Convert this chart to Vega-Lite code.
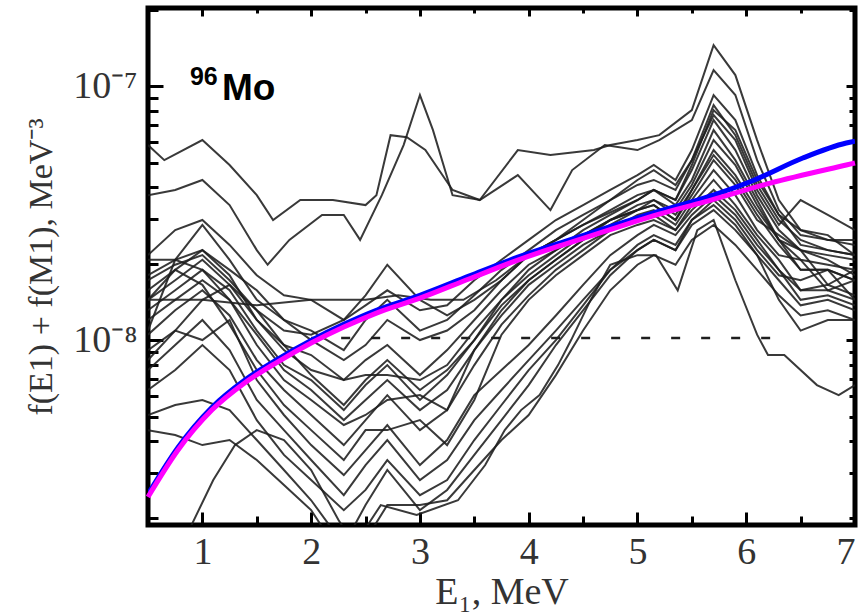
{
  "$schema": "https://vega.github.io/schema/vega-lite/v6.json",
  "width": 707,
  "height": 517,
  "autosize": {"type": "none"},
  "padding": {"left": 148, "top": 8, "right": 7, "bottom": 88},
  "background": "white",
  "config": {
    "view": {"stroke": "black", "strokeWidth": 5},
    "axis": {"domain": false, "grid": false, "labelFont": "Liberation Serif", "titleFont": "Liberation Serif", "labelColor": "#333", "titleColor": "#333", "titleFontWeight": "normal", "tickColor": "black", "tickWidth": 3, "labelFlush": false, "labelOverlap": false}
  },
  "resolve": {"axis": {"x": "independent", "y": "independent"}},
  "datasets": {
    "lines": [
      {"s":"A","e":0.5,"f":5.86e-8},{"s":"A","e":0.65,"f":5.11e-8},{"s":"A","e":1.0,"f":6.13e-8},{"s":"A","e":1.25,"f":4.89e-8},{"s":"A","e":1.5,"f":3.72e-8},{"s":"A","e":1.65,"f":2.97e-8},{"s":"A","e":1.9,"f":3.56e-8},{"s":"A","e":2.2,"f":3.56e-8},{"s":"A","e":2.5,"f":3.40e-8},{"s":"A","e":2.6,"f":3.72e-8},{"s":"A","e":2.73,"f":6.41e-8},{"s":"A","e":2.88,"f":6.29e-8},{"s":"A","e":3.05,"f":5.60e-8},{"s":"A","e":3.3,"f":3.90e-8},{"s":"A","e":3.55,"f":3.56e-8},{"s":"A","e":3.9,"f":4.46e-8},{"s":"A","e":4.2,"f":3.25e-8},{"s":"A","e":4.4,"f":4.67e-8},{"s":"A","e":4.7,"f":5.86e-8},{"s":"A","e":5.0,"f":5.60e-8},{"s":"A","e":5.2,"f":6.13e-8},{"s":"A","e":5.5,"f":7.35e-8},{"s":"A","e":5.7,"f":1.156e-7},{"s":"A","e":5.9,"f":9.22e-8},{"s":"A","e":6.1,"f":5.11e-8},{"s":"A","e":6.3,"f":3.25e-8},{"s":"A","e":6.5,"f":2.59e-8},{"s":"A","e":6.75,"f":2.48e-8},{"s":"A","e":7.0,"f":2.37e-8},
      {"s":"B","e":0.5,"f":3.72e-8},{"s":"B","e":0.75,"f":3.90e-8},{"s":"B","e":1.0,"f":4.27e-8},{"s":"B","e":1.25,"f":3.40e-8},{"s":"B","e":1.5,"f":2.26e-8},{"s":"B","e":1.6,"f":1.98e-8},{"s":"B","e":1.8,"f":2.48e-8},{"s":"B","e":2.1,"f":3.11e-8},{"s":"B","e":2.3,"f":3.11e-8},{"s":"B","e":2.45,"f":2.48e-8},{"s":"B","e":2.65,"f":3.72e-8},{"s":"B","e":2.85,"f":5.86e-8},{"s":"B","e":3.0,"f":9.22e-8},{"s":"B","e":3.12,"f":6.71e-8},{"s":"B","e":3.3,"f":3.72e-8},{"s":"B","e":3.55,"f":3.56e-8},{"s":"B","e":3.9,"f":5.60e-8},{"s":"B","e":4.2,"f":5.35e-8},{"s":"B","e":4.6,"f":5.60e-8},{"s":"B","e":4.75,"f":5.86e-8},{"s":"B","e":5.0,"f":6.13e-8},{"s":"B","e":5.2,"f":6.41e-8},{"s":"B","e":5.5,"f":8.04e-8},{"s":"B","e":5.7,"f":1.45e-7},{"s":"B","e":5.9,"f":1.105e-7},{"s":"B","e":6.1,"f":6.13e-8},{"s":"B","e":6.3,"f":3.56e-8},{"s":"B","e":6.5,"f":2.71e-8},{"s":"B","e":6.75,"f":2.59e-8},{"s":"B","e":7.0,"f":2.16e-8},
      {"s":"C","e":0.5,"f":1.44e-8},{"s":"C","e":1.0,"f":1.44e-8},{"s":"C","e":1.5,"f":1.37e-8},{"s":"C","e":2.0,"f":1.44e-8},{"s":"C","e":2.5,"f":1.44e-8},{"s":"C","e":2.8,"f":1.50e-8},{"s":"C","e":3.1,"f":1.44e-8},{"s":"C","e":3.4,"f":1.44e-8},{"s":"C","e":3.7,"f":1.72e-8},{"s":"C","e":4.0,"f":2.16e-8},{"s":"C","e":4.5,"f":2.84e-8},{"s":"C","e":5.0,"f":3.56e-8},{"s":"C","e":5.15,"f":3.90e-8},{"s":"C","e":5.35,"f":3.56e-8},{"s":"C","e":5.5,"f":4.89e-8},{"s":"C","e":5.7,"f":8.04e-8},{"s":"C","e":5.9,"f":6.71e-8},{"s":"C","e":6.1,"f":4.27e-8},{"s":"C","e":6.3,"f":3.11e-8},{"s":"C","e":6.5,"f":2.37e-8},{"s":"C","e":6.75,"f":2.26e-8},{"s":"C","e":7.0,"f":2.16e-8},
      {"s":"M1","e":0.5,"f":2.16e-8},{"s":"M1","e":0.75,"f":2.71e-8},{"s":"M1","e":1.0,"f":2.97e-8},{"s":"M1","e":1.25,"f":2.37e-8},{"s":"M1","e":1.5,"f":1.80e-8},{"s":"M1","e":1.75,"f":1.50e-8},{"s":"M1","e":2.0,"f":1.44e-8},{"s":"M1","e":2.3,"f":1.20e-8},{"s":"M1","e":2.5,"f":1.37e-8},{"s":"M1","e":2.7,"f":1.57e-8},{"s":"M1","e":3.0,"f":1.31e-8},{"s":"M1","e":3.25,"f":1.37e-8},{"s":"M1","e":3.5,"f":1.72e-8},{"s":"M1","e":3.75,"f":2.07e-8},{"s":"M1","e":4.0,"f":2.48e-8},{"s":"M1","e":4.25,"f":2.97e-8},{"s":"M1","e":4.5,"f":3.40e-8},{"s":"M1","e":4.75,"f":3.90e-8},{"s":"M1","e":5.0,"f":4.46e-8},{"s":"M1","e":5.15,"f":4.89e-8},{"s":"M1","e":5.35,"f":4.27e-8},{"s":"M1","e":5.5,"f":5.60e-8},{"s":"M1","e":5.7,"f":9.22e-8},{"s":"M1","e":5.9,"f":7.35e-8},{"s":"M1","e":6.1,"f":4.46e-8},{"s":"M1","e":6.3,"f":3.11e-8},{"s":"M1","e":6.5,"f":2.71e-8},{"s":"M1","e":6.75,"f":2.48e-8},{"s":"M1","e":7.0,"f":2.48e-8},
      {"s":"M2","e":0.5,"f":1.09e-8},{"s":"M2","e":0.75,"f":2.07e-8},{"s":"M2","e":1.0,"f":2.84e-8},{"s":"M2","e":1.25,"f":2.07e-8},{"s":"M2","e":1.5,"f":1.44e-8},{"s":"M2","e":1.75,"f":1.20e-8},{"s":"M2","e":2.0,"f":1.09e-8},{"s":"M2","e":2.3,"f":9.13e-9},{"s":"M2","e":2.5,"f":1.20e-8},{"s":"M2","e":2.7,"f":1.44e-8},{"s":"M2","e":3.0,"f":1.09e-8},{"s":"M2","e":3.25,"f":1.20e-8},{"s":"M2","e":3.5,"f":1.50e-8},{"s":"M2","e":3.75,"f":1.89e-8},{"s":"M2","e":4.0,"f":2.26e-8},{"s":"M2","e":4.25,"f":2.71e-8},{"s":"M2","e":4.5,"f":3.11e-8},{"s":"M2","e":4.75,"f":3.56e-8},{"s":"M2","e":5.0,"f":4.08e-8},{"s":"M2","e":5.15,"f":4.27e-8},{"s":"M2","e":5.35,"f":3.90e-8},{"s":"M2","e":5.5,"f":5.11e-8},{"s":"M2","e":5.7,"f":8.42e-8},{"s":"M2","e":5.9,"f":6.41e-8},{"s":"M2","e":6.1,"f":4.08e-8},{"s":"M2","e":6.3,"f":2.97e-8},{"s":"M2","e":6.5,"f":2.48e-8},{"s":"M2","e":6.75,"f":2.26e-8},{"s":"M2","e":7.0,"f":2.16e-8},
      {"s":"M3","e":0.5,"f":1.80e-8},{"s":"M3","e":0.75,"f":2.07e-8},{"s":"M3","e":1.0,"f":2.26e-8},{"s":"M3","e":1.25,"f":1.89e-8},{"s":"M3","e":1.5,"f":1.57e-8},{"s":"M3","e":1.75,"f":1.20e-8},{"s":"M3","e":2.0,"f":1.00e-8},{"s":"M3","e":2.3,"f":8.34e-9},{"s":"M3","e":2.5,"f":9.56e-9},{"s":"M3","e":2.7,"f":1.20e-8},{"s":"M3","e":3.0,"f":1.00e-8},{"s":"M3","e":3.25,"f":1.09e-8},{"s":"M3","e":3.5,"f":1.31e-8},{"s":"M3","e":3.75,"f":1.72e-8},{"s":"M3","e":4.0,"f":2.16e-8},{"s":"M3","e":4.25,"f":2.48e-8},{"s":"M3","e":4.5,"f":2.84e-8},{"s":"M3","e":4.75,"f":3.25e-8},{"s":"M3","e":5.0,"f":3.72e-8},{"s":"M3","e":5.15,"f":3.90e-8},{"s":"M3","e":5.35,"f":3.56e-8},{"s":"M3","e":5.5,"f":4.67e-8},{"s":"M3","e":5.7,"f":7.35e-8},{"s":"M3","e":5.9,"f":5.60e-8},{"s":"M3","e":6.1,"f":3.72e-8},{"s":"M3","e":6.3,"f":2.71e-8},{"s":"M3","e":6.5,"f":2.26e-8},{"s":"M3","e":6.75,"f":2.16e-8},{"s":"M3","e":7.0,"f":2.07e-8},
      {"s":"M4","e":0.5,"f":2.07e-8},{"s":"M4","e":0.75,"f":2.07e-8},{"s":"M4","e":1.0,"f":1.89e-8},{"s":"M4","e":1.25,"f":1.44e-8},{"s":"M4","e":1.5,"f":1.05e-8},{"s":"M4","e":1.75,"f":7.62e-9},{"s":"M4","e":2.0,"f":6.36e-9},{"s":"M4","e":2.3,"f":4.84e-9},{"s":"M4","e":2.5,"f":5.81e-9},{"s":"M4","e":2.7,"f":6.96e-9},{"s":"M4","e":3.0,"f":5.30e-9},{"s":"M4","e":3.25,"f":6.36e-9},{"s":"M4","e":3.5,"f":9.13e-9},{"s":"M4","e":3.75,"f":1.31e-8},{"s":"M4","e":4.0,"f":1.72e-8},{"s":"M4","e":4.25,"f":2.07e-8},{"s":"M4","e":4.5,"f":2.48e-8},{"s":"M4","e":4.75,"f":2.97e-8},{"s":"M4","e":5.0,"f":3.25e-8},{"s":"M4","e":5.15,"f":3.56e-8},{"s":"M4","e":5.35,"f":3.25e-8},{"s":"M4","e":5.5,"f":4.08e-8},{"s":"M4","e":5.7,"f":6.13e-8},{"s":"M4","e":5.9,"f":4.89e-8},{"s":"M4","e":6.1,"f":3.40e-8},{"s":"M4","e":6.3,"f":2.48e-8},{"s":"M4","e":6.5,"f":2.07e-8},{"s":"M4","e":6.75,"f":1.98e-8},{"s":"M4","e":7.0,"f":1.89e-8},
      {"s":"M5","e":0.5,"f":1.57e-8},{"s":"M5","e":0.75,"f":1.89e-8},{"s":"M5","e":1.0,"f":2.26e-8},{"s":"M5","e":1.25,"f":1.80e-8},{"s":"M5","e":1.5,"f":1.20e-8},{"s":"M5","e":1.75,"f":9.56e-9},{"s":"M5","e":2.0,"f":8.73e-9},{"s":"M5","e":2.3,"f":6.96e-9},{"s":"M5","e":2.5,"f":8.34e-9},{"s":"M5","e":2.7,"f":9.56e-9},{"s":"M5","e":3.0,"f":7.28e-9},{"s":"M5","e":3.25,"f":9.13e-9},{"s":"M5","e":3.5,"f":1.20e-8},{"s":"M5","e":3.75,"f":1.57e-8},{"s":"M5","e":4.0,"f":1.98e-8},{"s":"M5","e":4.25,"f":2.26e-8},{"s":"M5","e":4.5,"f":2.71e-8},{"s":"M5","e":4.75,"f":3.11e-8},{"s":"M5","e":5.0,"f":3.56e-8},{"s":"M5","e":5.15,"f":3.90e-8},{"s":"M5","e":5.35,"f":3.40e-8},{"s":"M5","e":5.5,"f":4.27e-8},{"s":"M5","e":5.7,"f":6.71e-8},{"s":"M5","e":5.9,"f":5.11e-8},{"s":"M5","e":6.1,"f":3.56e-8},{"s":"M5","e":6.3,"f":2.48e-8},{"s":"M5","e":6.5,"f":2.26e-8},{"s":"M5","e":6.75,"f":1.65e-8},{"s":"M5","e":7.0,"f":1.89e-8},
      {"s":"M6","e":0.5,"f":1.44e-8},{"s":"M6","e":0.75,"f":1.72e-8},{"s":"M6","e":1.0,"f":2.07e-8},{"s":"M6","e":1.25,"f":1.65e-8},{"s":"M6","e":1.5,"f":1.20e-8},{"s":"M6","e":1.75,"f":9.13e-9},{"s":"M6","e":2.0,"f":7.62e-9},{"s":"M6","e":2.3,"f":6.96e-9},{"s":"M6","e":2.5,"f":7.28e-9},{"s":"M6","e":2.7,"f":7.28e-9},{"s":"M6","e":3.0,"f":6.96e-9},{"s":"M6","e":3.25,"f":7.97e-9},{"s":"M6","e":3.5,"f":1.09e-8},{"s":"M6","e":3.75,"f":1.44e-8},{"s":"M6","e":4.0,"f":1.89e-8},{"s":"M6","e":4.25,"f":2.26e-8},{"s":"M6","e":4.5,"f":2.59e-8},{"s":"M6","e":4.75,"f":2.97e-8},{"s":"M6","e":5.0,"f":3.40e-8},{"s":"M6","e":5.15,"f":3.56e-8},{"s":"M6","e":5.35,"f":3.11e-8},{"s":"M6","e":5.5,"f":3.90e-8},{"s":"M6","e":5.7,"f":5.60e-8},{"s":"M6","e":5.9,"f":4.46e-8},{"s":"M6","e":6.1,"f":3.25e-8},{"s":"M6","e":6.3,"f":2.48e-8},{"s":"M6","e":6.5,"f":1.89e-8},{"s":"M6","e":6.75,"f":1.89e-8},{"s":"M6","e":7.0,"f":1.72e-8},
      {"s":"M7","e":0.5,"f":1.31e-8},{"s":"M7","e":0.75,"f":1.57e-8},{"s":"M7","e":1.0,"f":1.89e-8},{"s":"M7","e":1.25,"f":1.57e-8},{"s":"M7","e":1.5,"f":1.09e-8},{"s":"M7","e":1.75,"f":7.97e-9},{"s":"M7","e":2.0,"f":6.96e-9},{"s":"M7","e":2.3,"f":5.30e-9},{"s":"M7","e":2.5,"f":6.65e-9},{"s":"M7","e":2.7,"f":7.97e-9},{"s":"M7","e":3.0,"f":5.81e-9},{"s":"M7","e":3.25,"f":7.28e-9},{"s":"M7","e":3.5,"f":1.00e-8},{"s":"M7","e":3.75,"f":1.37e-8},{"s":"M7","e":4.0,"f":1.72e-8},{"s":"M7","e":4.25,"f":2.07e-8},{"s":"M7","e":4.5,"f":2.48e-8},{"s":"M7","e":4.75,"f":2.84e-8},{"s":"M7","e":5.0,"f":3.25e-8},{"s":"M7","e":5.15,"f":3.40e-8},{"s":"M7","e":5.35,"f":2.97e-8},{"s":"M7","e":5.5,"f":3.72e-8},{"s":"M7","e":5.7,"f":5.11e-8},{"s":"M7","e":5.9,"f":4.08e-8},{"s":"M7","e":6.1,"f":2.97e-8},{"s":"M7","e":6.3,"f":2.59e-8},{"s":"M7","e":6.5,"f":2.26e-8},{"s":"M7","e":6.75,"f":2.07e-8},{"s":"M7","e":7.0,"f":1.80e-8},
      {"s":"M8","e":0.5,"f":8.34e-9},{"s":"M8","e":0.75,"f":1.09e-8},{"s":"M8","e":1.0,"f":1.44e-8},{"s":"M8","e":1.25,"f":1.65e-8},{"s":"M8","e":1.5,"f":1.31e-8},{"s":"M8","e":1.75,"f":9.56e-9},{"s":"M8","e":2.0,"f":7.28e-9},{"s":"M8","e":2.3,"f":5.55e-9},{"s":"M8","e":2.5,"f":6.96e-9},{"s":"M8","e":2.7,"f":8.34e-9},{"s":"M8","e":3.0,"f":6.36e-9},{"s":"M8","e":3.25,"f":7.62e-9},{"s":"M8","e":3.5,"f":1.00e-8},{"s":"M8","e":3.75,"f":1.44e-8},{"s":"M8","e":4.0,"f":1.80e-8},{"s":"M8","e":4.25,"f":2.16e-8},{"s":"M8","e":4.5,"f":2.59e-8},{"s":"M8","e":4.75,"f":2.97e-8},{"s":"M8","e":5.0,"f":3.25e-8},{"s":"M8","e":5.15,"f":3.40e-8},{"s":"M8","e":5.35,"f":2.97e-8},{"s":"M8","e":5.5,"f":3.90e-8},{"s":"M8","e":5.7,"f":5.35e-8},{"s":"M8","e":5.9,"f":4.27e-8},{"s":"M8","e":6.1,"f":3.11e-8},{"s":"M8","e":6.3,"f":2.37e-8},{"s":"M8","e":6.5,"f":1.89e-8},{"s":"M8","e":6.75,"f":1.89e-8},{"s":"M8","e":7.0,"f":1.72e-8},
      {"s":"M9","e":0.5,"f":1.20e-8},{"s":"M9","e":0.75,"f":1.44e-8},{"s":"M9","e":1.0,"f":1.72e-8},{"s":"M9","e":1.25,"f":1.44e-8},{"s":"M9","e":1.5,"f":9.56e-9},{"s":"M9","e":1.75,"f":6.96e-9},{"s":"M9","e":2.0,"f":5.81e-9},{"s":"M9","e":2.3,"f":4.63e-9},{"s":"M9","e":2.5,"f":5.07e-9},{"s":"M9","e":2.7,"f":5.81e-9},{"s":"M9","e":3.0,"f":6.07e-9},{"s":"M9","e":3.25,"f":5.30e-9},{"s":"M9","e":3.5,"f":9.13e-9},{"s":"M9","e":3.75,"f":1.25e-8},{"s":"M9","e":4.0,"f":1.65e-8},{"s":"M9","e":4.25,"f":1.98e-8},{"s":"M9","e":4.5,"f":2.37e-8},{"s":"M9","e":4.75,"f":2.71e-8},{"s":"M9","e":5.0,"f":3.11e-8},{"s":"M9","e":5.15,"f":3.25e-8},{"s":"M9","e":5.35,"f":2.84e-8},{"s":"M9","e":5.5,"f":3.56e-8},{"s":"M9","e":5.7,"f":4.67e-8},{"s":"M9","e":5.9,"f":3.72e-8},{"s":"M9","e":6.1,"f":2.71e-8},{"s":"M9","e":6.3,"f":2.16e-8},{"s":"M9","e":6.5,"f":2.07e-8},{"s":"M9","e":6.75,"f":1.57e-8},{"s":"M9","e":7.0,"f":1.72e-8},
      {"s":"M10","e":0.5,"f":1.05e-8},{"s":"M10","e":0.75,"f":1.31e-8},{"s":"M10","e":1.0,"f":1.57e-8},{"s":"M10","e":1.25,"f":1.25e-8},{"s":"M10","e":1.5,"f":8.34e-9},{"s":"M10","e":1.75,"f":6.36e-9},{"s":"M10","e":2.0,"f":5.07e-9},{"s":"M10","e":2.3,"f":3.86e-9},{"s":"M10","e":2.5,"f":4.84e-9},{"s":"M10","e":2.7,"f":6.07e-9},{"s":"M10","e":3.0,"f":4.42e-9},{"s":"M10","e":3.25,"f":5.30e-9},{"s":"M10","e":3.5,"f":7.97e-9},{"s":"M10","e":3.75,"f":1.15e-8},{"s":"M10","e":4.0,"f":1.50e-8},{"s":"M10","e":4.25,"f":1.89e-8},{"s":"M10","e":4.5,"f":2.26e-8},{"s":"M10","e":4.75,"f":2.71e-8},{"s":"M10","e":5.0,"f":2.97e-8},{"s":"M10","e":5.15,"f":3.11e-8},{"s":"M10","e":5.35,"f":2.71e-8},{"s":"M10","e":5.5,"f":3.40e-8},{"s":"M10","e":5.7,"f":4.27e-8},{"s":"M10","e":5.9,"f":3.40e-8},{"s":"M10","e":6.1,"f":2.59e-8},{"s":"M10","e":6.3,"f":2.07e-8},{"s":"M10","e":6.5,"f":1.57e-8},{"s":"M10","e":6.75,"f":1.65e-8},{"s":"M10","e":7.0,"f":1.50e-8},
      {"s":"M11","e":0.5,"f":1.44e-8},{"s":"M11","e":0.75,"f":1.89e-8},{"s":"M11","e":1.0,"f":1.65e-8},{"s":"M11","e":1.25,"f":1.15e-8},{"s":"M11","e":1.5,"f":7.62e-9},{"s":"M11","e":1.75,"f":5.55e-9},{"s":"M11","e":2.0,"f":4.42e-9},{"s":"M11","e":2.3,"f":3.37e-9},{"s":"M11","e":2.5,"f":4.42e-9},{"s":"M11","e":2.7,"f":4.42e-9},{"s":"M11","e":3.0,"f":4.84e-9},{"s":"M11","e":3.25,"f":3.86e-9},{"s":"M11","e":3.5,"f":5.81e-9},{"s":"M11","e":3.75,"f":1.05e-8},{"s":"M11","e":4.0,"f":1.44e-8},{"s":"M11","e":4.25,"f":1.80e-8},{"s":"M11","e":4.5,"f":2.16e-8},{"s":"M11","e":4.75,"f":2.59e-8},{"s":"M11","e":5.0,"f":2.84e-8},{"s":"M11","e":5.15,"f":2.97e-8},{"s":"M11","e":5.35,"f":2.71e-8},{"s":"M11","e":5.5,"f":3.25e-8},{"s":"M11","e":5.7,"f":3.90e-8},{"s":"M11","e":5.9,"f":3.25e-8},{"s":"M11","e":6.1,"f":2.48e-8},{"s":"M11","e":6.3,"f":1.89e-8},{"s":"M11","e":6.5,"f":1.57e-8},{"s":"M11","e":6.75,"f":1.57e-8},{"s":"M11","e":7.0,"f":1.44e-8},
      {"s":"M12","e":0.5,"f":9.13e-9},{"s":"M12","e":0.75,"f":1.09e-8},{"s":"M12","e":1.0,"f":1.00e-8},{"s":"M12","e":1.25,"f":1.20e-8},{"s":"M12","e":1.5,"f":6.96e-9},{"s":"M12","e":1.75,"f":5.07e-9},{"s":"M12","e":2.0,"f":3.86e-9},{"s":"M12","e":2.3,"f":2.94e-9},{"s":"M12","e":2.5,"f":3.69e-9},{"s":"M12","e":2.7,"f":4.63e-9},{"s":"M12","e":3.0,"f":3.22e-9},{"s":"M12","e":3.25,"f":4.04e-9},{"s":"M12","e":3.5,"f":6.07e-9},{"s":"M12","e":3.75,"f":7.62e-9},{"s":"M12","e":4.0,"f":9.56e-9},{"s":"M12","e":4.25,"f":1.25e-8},{"s":"M12","e":4.5,"f":1.65e-8},{"s":"M12","e":4.75,"f":2.16e-8},{"s":"M12","e":5.0,"f":2.59e-8},{"s":"M12","e":5.15,"f":2.84e-8},{"s":"M12","e":5.35,"f":2.59e-8},{"s":"M12","e":5.5,"f":3.11e-8},{"s":"M12","e":5.7,"f":3.72e-8},{"s":"M12","e":5.9,"f":3.11e-8},{"s":"M12","e":6.1,"f":2.37e-8},{"s":"M12","e":6.3,"f":1.89e-8},{"s":"M12","e":6.5,"f":1.44e-8},{"s":"M12","e":6.75,"f":1.50e-8},{"s":"M12","e":7.0,"f":1.37e-8},
      {"s":"M13","e":0.5,"f":7.62e-9},{"s":"M13","e":0.75,"f":9.56e-9},{"s":"M13","e":1.0,"f":1.20e-8},{"s":"M13","e":1.25,"f":9.13e-9},{"s":"M13","e":1.5,"f":5.81e-9},{"s":"M13","e":1.75,"f":4.42e-9},{"s":"M13","e":2.0,"f":3.37e-9},{"s":"M13","e":2.3,"f":2.45e-9},{"s":"M13","e":2.5,"f":3.22e-9},{"s":"M13","e":2.7,"f":4.04e-9},{"s":"M13","e":3.0,"f":2.81e-9},{"s":"M13","e":3.25,"f":3.37e-9},{"s":"M13","e":3.5,"f":4.84e-9},{"s":"M13","e":3.75,"f":6.36e-9},{"s":"M13","e":4.0,"f":8.34e-9},{"s":"M13","e":4.25,"f":1.09e-8},{"s":"M13","e":4.5,"f":1.44e-8},{"s":"M13","e":4.75,"f":1.89e-8},{"s":"M13","e":5.0,"f":2.37e-8},{"s":"M13","e":5.15,"f":2.59e-8},{"s":"M13","e":5.35,"f":2.37e-8},{"s":"M13","e":5.5,"f":2.97e-8},{"s":"M13","e":5.7,"f":3.56e-8},{"s":"M13","e":5.9,"f":2.97e-8},{"s":"M13","e":6.1,"f":2.26e-8},{"s":"M13","e":6.3,"f":1.80e-8},{"s":"M13","e":6.5,"f":1.72e-8},{"s":"M13","e":6.75,"f":1.89e-8},{"s":"M13","e":7.0,"f":1.44e-8},
      {"s":"M14","e":0.5,"f":5.07e-9},{"s":"M14","e":0.75,"f":5.55e-9},{"s":"M14","e":1.0,"f":5.81e-9},{"s":"M14","e":1.25,"f":5.30e-9},{"s":"M14","e":1.5,"f":4.04e-9},{"s":"M14","e":1.75,"f":3.08e-9},{"s":"M14","e":2.0,"f":2.34e-9},{"s":"M14","e":2.3,"f":1.56e-9},{"s":"M14","e":2.5,"f":2.24e-9},{"s":"M14","e":2.7,"f":3.08e-9},{"s":"M14","e":3.0,"f":2.14e-9},{"s":"M14","e":3.25,"f":2.57e-9},{"s":"M14","e":3.5,"f":3.53e-9},{"s":"M14","e":3.75,"f":4.84e-9},{"s":"M14","e":4.0,"f":6.65e-9},{"s":"M14","e":4.25,"f":9.56e-9},{"s":"M14","e":4.5,"f":1.31e-8},{"s":"M14","e":4.75,"f":1.80e-8},{"s":"M14","e":5.0,"f":2.26e-8},{"s":"M14","e":5.15,"f":2.48e-8},{"s":"M14","e":5.35,"f":2.26e-8},{"s":"M14","e":5.5,"f":2.84e-8},{"s":"M14","e":5.7,"f":3.25e-8},{"s":"M14","e":5.9,"f":2.71e-8},{"s":"M14","e":6.1,"f":2.16e-8},{"s":"M14","e":6.3,"f":1.44e-8},{"s":"M14","e":6.5,"f":1.09e-8},{"s":"M14","e":6.75,"f":1.20e-8},{"s":"M14","e":7.0,"f":1.20e-8},
      {"s":"M15","e":0.5,"f":6.36e-9},{"s":"M15","e":0.75,"f":7.62e-9},{"s":"M15","e":1.0,"f":9.56e-9},{"s":"M15","e":1.25,"f":7.62e-9},{"s":"M15","e":1.5,"f":4.84e-9},{"s":"M15","e":1.75,"f":3.53e-9},{"s":"M15","e":2.0,"f":2.81e-9},{"s":"M15","e":2.3,"f":2.14e-9},{"s":"M15","e":2.5,"f":2.57e-9},{"s":"M15","e":2.7,"f":3.37e-9},{"s":"M15","e":3.0,"f":2.45e-9},{"s":"M15","e":3.25,"f":2.81e-9},{"s":"M15","e":3.5,"f":4.04e-9},{"s":"M15","e":3.75,"f":5.55e-9},{"s":"M15","e":4.0,"f":7.62e-9},{"s":"M15","e":4.25,"f":1.00e-8},{"s":"M15","e":4.5,"f":1.37e-8},{"s":"M15","e":4.75,"f":1.89e-8},{"s":"M15","e":5.0,"f":2.26e-8},{"s":"M15","e":5.15,"f":2.48e-8},{"s":"M15","e":5.35,"f":2.26e-8},{"s":"M15","e":5.5,"f":2.97e-8},{"s":"M15","e":5.7,"f":3.40e-8},{"s":"M15","e":5.9,"f":2.84e-8},{"s":"M15","e":6.1,"f":2.16e-8},{"s":"M15","e":6.3,"f":1.72e-8},{"s":"M15","e":6.5,"f":1.37e-8},{"s":"M15","e":6.75,"f":1.44e-8},{"s":"M15","e":7.0,"f":1.31e-8},
      {"s":"M16","e":0.75,"f":1.14e-9},{"s":"M16","e":0.9,"f":1.87e-9},{"s":"M16","e":1.1,"f":2.81e-9},{"s":"M16","e":1.3,"f":3.86e-9},{"s":"M16","e":1.5,"f":4.42e-9},{"s":"M16","e":1.75,"f":4.04e-9},{"s":"M16","e":2.0,"f":3.08e-9},{"s":"M16","e":2.25,"f":1.96e-9},{"s":"M16","e":2.4,"f":1.56e-9},{"s":"M16","e":2.64,"f":2.24e-9},{"s":"M16","e":2.97,"f":2.05e-9},{"s":"M16","e":3.35,"f":2.34e-9},{"s":"M16","e":3.6,"f":3.22e-9},{"s":"M16","e":3.78,"f":4.42e-9},{"s":"M16","e":3.93,"f":5.30e-9},{"s":"M16","e":4.1,"f":6.07e-9},{"s":"M16","e":4.27,"f":7.97e-9},{"s":"M16","e":4.39,"f":1.00e-8},{"s":"M16","e":4.57,"f":1.44e-8},{"s":"M16","e":4.75,"f":1.98e-8},{"s":"M16","e":5.0,"f":2.16e-8},{"s":"M16","e":5.17,"f":2.16e-8},{"s":"M16","e":5.37,"f":1.57e-8},{"s":"M16","e":5.55,"f":2.71e-8},{"s":"M16","e":5.7,"f":2.97e-8},{"s":"M16","e":5.9,"f":1.72e-8},{"s":"M16","e":6.1,"f":1.05e-8},{"s":"M16","e":6.2,"f":8.73e-9},{"s":"M16","e":6.35,"f":8.73e-9},{"s":"M16","e":6.65,"f":6.65e-9},{"s":"M16","e":6.85,"f":6.07e-9},{"s":"M16","e":7.0,"f":6.65e-9},
      {"s":"M17","e":0.5,"f":1.72e-8},{"s":"M17","e":0.75,"f":1.98e-8},{"s":"M17","e":1.0,"f":2.16e-8},{"s":"M17","e":1.25,"f":1.72e-8},{"s":"M17","e":1.5,"f":1.31e-8},{"s":"M17","e":1.75,"f":1.09e-8},{"s":"M17","e":2.0,"f":1.05e-8},{"s":"M17","e":2.3,"f":1.20e-8},{"s":"M17","e":2.5,"f":1.50e-8},{"s":"M17","e":2.7,"f":1.98e-8},{"s":"M17","e":3.0,"f":1.44e-8},{"s":"M17","e":3.25,"f":1.25e-8},{"s":"M17","e":3.5,"f":1.44e-8},{"s":"M17","e":3.75,"f":1.72e-8},{"s":"M17","e":4.0,"f":2.16e-8},{"s":"M17","e":4.25,"f":2.48e-8},{"s":"M17","e":4.5,"f":2.97e-8},{"s":"M17","e":4.75,"f":3.56e-8},{"s":"M17","e":5.0,"f":4.27e-8},{"s":"M17","e":5.15,"f":4.67e-8},{"s":"M17","e":5.35,"f":4.08e-8},{"s":"M17","e":5.5,"f":5.11e-8},{"s":"M17","e":5.7,"f":7.69e-8},{"s":"M17","e":5.9,"f":6.13e-8},{"s":"M17","e":6.1,"f":3.90e-8},{"s":"M17","e":6.3,"f":2.84e-8},{"s":"M17","e":6.5,"f":3.56e-8},{"s":"M17","e":6.75,"f":3.11e-8},{"s":"M17","e":7.0,"f":2.71e-8},
      {"s":"M19","e":0.5,"f":4.42e-9},{"s":"M19","e":0.75,"f":4.23e-9},{"s":"M19","e":1.0,"f":3.86e-9},{"s":"M19","e":1.25,"f":4.04e-9},{"s":"M19","e":1.5,"f":3.37e-9},{"s":"M19","e":1.75,"f":2.69e-9},{"s":"M19","e":2.0,"f":2.14e-9},{"s":"M19","e":2.3,"f":1.36e-9},{"s":"M19","e":2.5,"f":1.63e-9},{"s":"M19","e":2.7,"f":2.24e-9},{"s":"M19","e":3.0,"f":2.24e-9},{"s":"M19","e":3.25,"f":2.34e-9},{"s":"M19","e":3.5,"f":3.08e-9},{"s":"M19","e":3.75,"f":4.04e-9},{"s":"M19","e":4.0,"f":5.07e-9},{"s":"M19","e":4.25,"f":7.28e-9},{"s":"M19","e":4.5,"f":1.09e-8},{"s":"M19","e":4.75,"f":1.57e-8},{"s":"M19","e":5.0,"f":1.98e-8},{"s":"M19","e":5.15,"f":2.16e-8},{"s":"M19","e":5.35,"f":1.98e-8},{"s":"M19","e":5.5,"f":2.48e-8},{"s":"M19","e":5.7,"f":2.84e-8},{"s":"M19","e":5.9,"f":2.37e-8},{"s":"M19","e":6.1,"f":1.89e-8},{"s":"M19","e":6.3,"f":1.50e-8},{"s":"M19","e":6.5,"f":1.25e-8},{"s":"M19","e":6.75,"f":1.31e-8},{"s":"M19","e":7.0,"f":1.20e-8}
    ],
    "dash": [{"e": 2.0, "f": 1.02e-8}, {"e": 6.3, "f": 1.02e-8}],
    "blue": [
      {"e":0.5,"f":2.47e-9},{"e":0.776,"f":3.78e-9},{"e":1.087,"f":5.43e-9},{"e":1.388,"f":6.95e-9},{"e":1.69,"f":8.40e-9},{"e":2.0,"f":9.97e-9},{"e":2.3,"f":1.153e-8},{"e":2.6,"f":1.31e-8},{"e":3.0,"f":1.50e-8},{"e":3.45,"f":1.785e-8},{"e":3.9,"f":2.12e-8},{"e":4.35,"f":2.46e-8},{"e":4.82,"f":2.86e-8},{"e":5.2,"f":3.22e-8},{"e":5.61,"f":3.62e-8},{"e":6.07,"f":4.26e-8},{"e":6.52,"f":5.21e-8},{"e":6.92,"f":5.97e-8},{"e":7.0,"f":6.07e-8}
    ],
    "magenta": [
      {"e":0.5,"f":2.41e-9},{"e":0.776,"f":3.69e-9},{"e":1.087,"f":5.30e-9},{"e":1.388,"f":6.78e-9},{"e":1.69,"f":8.19e-9},{"e":2.0,"f":9.73e-9},{"e":2.3,"f":1.125e-8},{"e":2.6,"f":1.277e-8},{"e":3.0,"f":1.462e-8},{"e":3.45,"f":1.74e-8},{"e":3.9,"f":2.065e-8},{"e":4.35,"f":2.40e-8},{"e":4.82,"f":2.786e-8},{"e":5.2,"f":3.13e-8},{"e":5.61,"f":3.49e-8},{"e":6.22,"f":4.15e-8},{"e":6.92,"f":4.89e-8},{"e":7.0,"f":4.98e-8}
    ],
    "labels": [
      {"t": "96", "k": "sup", "e": 0.885, "f": 1.01e-7},
      {"t": "Mo", "k": "main", "e": 1.18, "f": 8.81e-8}
    ]
  },
  "layer": [
    {
      "data": {"name": "lines"},
      "mark": {"type": "line", "clip": true, "stroke": "#1e1e1e", "strokeWidth": 2, "opacity": 0.88, "interpolate": "linear"},
      "encoding": {
        "x": {"field": "e", "type": "quantitative", "scale": {"domain": [0.5, 7], "nice": false, "zero": false},
          "axis": {"orient": "bottom", "values": [1, 2, 3, 4, 5, 6, 7], "tickSize": -13, "labelFontSize": 38, "labelPadding": 21, "labelFlush": true, "title": "E₁, MeV", "titleFontSize": 38, "titlePadding": 2}},
        "y": {"field": "f", "type": "quantitative", "scale": {"type": "log", "domain": [1.87e-9, 2.03e-7], "nice": false},
          "axis": {"orient": "left", "values": [1e-8, 1e-7], "tickSize": -15, "labelExpr": "datum.value > 5e-8 ? '10⁻⁷' : '10⁻⁸'", "labelFontSize": 38, "labelPadding": 26, "title": "f(E1) + f(M1), MeV⁻³", "titleFontSize": 34, "titlePadding": 14}},
        "detail": {"field": "s", "type": "nominal"}
      }
    },
    {
      "data": {"name": "dash"},
      "mark": {"type": "line", "clip": true, "stroke": "#1e1e1e", "strokeWidth": 2.5, "strokeDash": [9, 21]},
      "encoding": {
        "x": {"field": "e", "type": "quantitative", "scale": {"domain": [0.5, 7], "nice": false, "zero": false},
          "axis": {"orient": "bottom", "values": [1.5, 2.5, 3.5, 4.5, 5.5, 6.5], "tickSize": -9, "labels": false, "title": null}},
        "y": {"field": "f", "type": "quantitative", "scale": {"type": "log", "domain": [1.87e-9, 2.03e-7], "nice": false},
          "axis": {"orient": "left", "values": [2e-9, 3e-9, 4e-9, 5e-9, 6e-9, 7e-9, 8e-9, 9e-9, 2e-8, 3e-8, 4e-8, 5e-8, 6e-8, 7e-8, 8e-8, 9e-8, 2e-7], "tickSize": -10, "labels": false, "title": null}}
      }
    },
    {
      "data": {"name": "blue"},
      "mark": {"type": "line", "clip": true, "stroke": "#0000ff", "strokeWidth": 5, "interpolate": "monotone"},
      "encoding": {
        "x": {"field": "e", "type": "quantitative", "scale": {"domain": [0.5, 7], "nice": false, "zero": false},
          "axis": {"orient": "top", "values": [1, 2, 3, 4, 5, 6, 7], "tickSize": -8, "labels": false, "title": null}},
        "y": {"field": "f", "type": "quantitative", "scale": {"type": "log", "domain": [1.87e-9, 2.03e-7], "nice": false},
          "axis": {"orient": "right", "values": [1e-8, 1e-7], "tickSize": -9, "labels": false, "title": null}}
      }
    },
    {
      "data": {"name": "magenta"},
      "mark": {"type": "line", "clip": false, "stroke": "#ff00ff", "strokeWidth": 5, "interpolate": "monotone"},
      "encoding": {
        "x": {"field": "e", "type": "quantitative", "scale": {"domain": [0.5, 7], "nice": false, "zero": false},
          "axis": {"orient": "top", "values": [1.5, 2.5, 3.5, 4.5, 5.5, 6.5], "tickSize": -5, "labels": false, "title": null}},
        "y": {"field": "f", "type": "quantitative", "scale": {"type": "log", "domain": [1.87e-9, 2.03e-7], "nice": false},
          "axis": {"orient": "right", "values": [2e-9, 3e-9, 4e-9, 5e-9, 6e-9, 7e-9, 8e-9, 9e-9, 2e-8, 3e-8, 4e-8, 5e-8, 6e-8, 7e-8, 8e-8, 9e-8, 2e-7], "tickSize": -6, "labels": false, "title": null}}
      }
    },
    {
      "data": {"name": "labels"},
      "transform": [{"filter": "datum.k == 'sup'"}],
      "mark": {"type": "text", "font": "Liberation Sans", "fontWeight": "bold", "fontSize": 25, "align": "left", "baseline": "alphabetic", "color": "black"},
      "encoding": {
        "x": {"field": "e", "type": "quantitative", "scale": {"domain": [0.5, 7], "nice": false, "zero": false}, "axis": null},
        "y": {"field": "f", "type": "quantitative", "scale": {"type": "log", "domain": [1.87e-9, 2.03e-7], "nice": false}, "axis": null},
        "text": {"field": "t"}
      }
    },
    {
      "data": {"name": "labels"},
      "transform": [{"filter": "datum.k == 'main'"}],
      "mark": {"type": "text", "font": "Liberation Sans", "fontWeight": "bold", "fontSize": 37, "align": "left", "baseline": "alphabetic", "color": "black"},
      "encoding": {
        "x": {"field": "e", "type": "quantitative", "scale": {"domain": [0.5, 7], "nice": false, "zero": false}, "axis": null},
        "y": {"field": "f", "type": "quantitative", "scale": {"type": "log", "domain": [1.87e-9, 2.03e-7], "nice": false}, "axis": null},
        "text": {"field": "t"}
      }
    }
  ]
}
